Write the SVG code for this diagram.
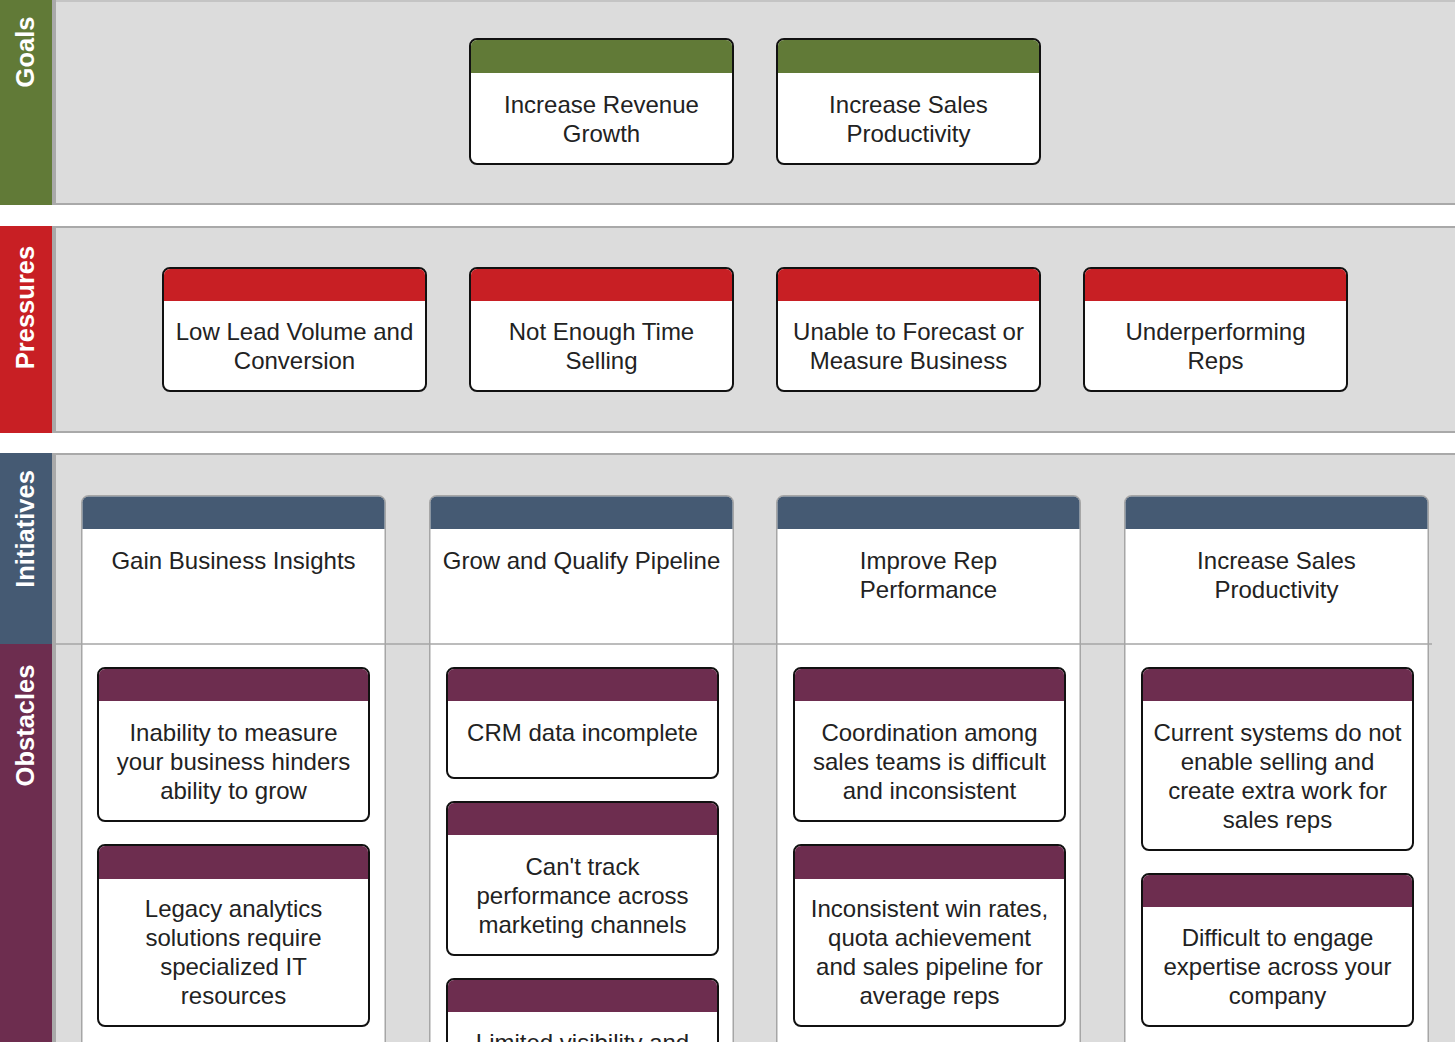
<svg xmlns="http://www.w3.org/2000/svg" width="1455" height="1042" viewBox="0 0 1455 1042">
<style>
 text{font-family:"Liberation Sans",Arial,Helvetica,sans-serif}
 .lbl{fill:#fff;font-size:25.5px;font-weight:bold;text-anchor:middle}
 .t{fill:#222;font-size:24px;text-anchor:middle}
 .panel{fill:#dcdcdc}
 .edge{fill:#a9a9a9}
 .card{fill:#fff;stroke:#111;stroke-width:2}
 .g{fill:#617a37} .r{fill:#c81f24} .b{fill:#455a73} .p{fill:#6d2d4f}
 .col{fill:#fff;stroke:#a6a6a6;stroke-width:1.5}
 .sep{stroke:#a6a6a6;stroke-width:1.5}
</style>
<rect x="0" y="0" width="1455" height="1042" fill="#fff"/>
<g id="bands">
 <rect class="panel" x="52" y="0" width="1403" height="205"/>
 <rect x="52" y="0" width="1403" height="2" fill="#c4c4c4"/>
 <rect class="edge" x="52" y="203" width="1403" height="2"/>
 <rect class="panel" x="52" y="226" width="1403" height="207"/>
 <rect class="edge" x="52" y="226" width="1403" height="2"/>
 <rect class="edge" x="52" y="431" width="1403" height="2"/>
 <rect class="panel" x="52" y="453" width="1403" height="589"/>
 <rect class="edge" x="52" y="453" width="1403" height="2"/>
 <rect class="edge" x="52" y="0" width="4" height="1042"/>
 <rect x="52" y="205" width="4" height="21" fill="#fff"/>
 <rect x="52" y="433" width="4" height="20" fill="#fff"/>
</g>
<g id="lane-goals"><rect class="g" x="0" y="0" width="52" height="205"/><text class="lbl" transform="translate(34,52) rotate(-90)">Goals</text></g>
<g id="lane-pressures"><rect class="r" x="0" y="226" width="52" height="207"/><text class="lbl" transform="translate(34,307.5) rotate(-90)">Pressures</text></g>
<g id="lane-initiatives"><rect class="b" x="0" y="453" width="52" height="191"/><text class="lbl" transform="translate(34,529) rotate(-90)">Initiatives</text></g>
<g id="lane-obstacles"><rect class="p" x="0" y="644" width="52" height="398"/><text class="lbl" transform="translate(34,725.5) rotate(-90)">Obstacles</text></g>

<g id="goal-revenue">
 <rect class="card" x="470" y="39" width="263" height="125" rx="7"/>
 <path class="g" d="M471,73 V46 A6,6 0 0 1 477,40 H726 A6,6 0 0 1 732,46 V73 Z"/>
 <text class="t" x="601.5" y="113">Increase Revenue</text><text class="t" x="601.5" y="142">Growth</text>
</g>
<g id="goal-productivity">
 <rect class="card" x="777" y="39" width="263" height="125" rx="7"/>
 <path class="g" d="M778,73 V46 A6,6 0 0 1 784,40 H1033 A6,6 0 0 1 1039,46 V73 Z"/>
 <text class="t" x="908.5" y="113">Increase Sales</text><text class="t" x="908.5" y="142">Productivity</text>
</g>

<g id="pressure-lead">
 <rect class="card" x="163" y="268" width="263" height="123" rx="7"/>
 <path class="r" d="M164,301 V275 A6,6 0 0 1 170,269 H419 A6,6 0 0 1 425,275 V301 Z"/>
 <text class="t" x="294.5" y="340">Low Lead Volume and</text><text class="t" x="294.5" y="369">Conversion</text>
</g>
<g id="pressure-time">
 <rect class="card" x="470" y="268" width="263" height="123" rx="7"/>
 <path class="r" d="M471,301 V275 A6,6 0 0 1 477,269 H726 A6,6 0 0 1 732,275 V301 Z"/>
 <text class="t" x="601.5" y="340">Not Enough Time</text><text class="t" x="601.5" y="369">Selling</text>
</g>
<g id="pressure-forecast">
 <rect class="card" x="777" y="268" width="263" height="123" rx="7"/>
 <path class="r" d="M778,301 V275 A6,6 0 0 1 784,269 H1033 A6,6 0 0 1 1039,275 V301 Z"/>
 <text class="t" x="908.5" y="340">Unable to Forecast or</text><text class="t" x="908.5" y="369">Measure Business</text>
</g>
<g id="pressure-reps">
 <rect class="card" x="1084" y="268" width="263" height="123" rx="7"/>
 <path class="r" d="M1085,301 V275 A6,6 0 0 1 1091,269 H1340 A6,6 0 0 1 1346,275 V301 Z"/>
 <text class="t" x="1215.5" y="340">Underperforming</text><text class="t" x="1215.5" y="369">Reps</text>
</g>

<g id="initiative-insights">
 <rect class="col" x="81.75" y="495.75" width="303.5" height="600" rx="7"/>
 <path class="b" d="M82.5,529 V502.5 A6,6 0 0 1 88.5,496.5 H378.5 A6,6 0 0 1 384.5,502.5 V529 Z"/>
 <text class="t" x="233.5" y="569">Gain Business Insights</text>
</g>
<g id="initiative-pipeline">
 <rect class="col" x="429.75" y="495.75" width="303.5" height="600" rx="7"/>
 <path class="b" d="M430.5,529 V502.5 A6,6 0 0 1 436.5,496.5 H726.5 A6,6 0 0 1 732.5,502.5 V529 Z"/>
 <text class="t" x="581.5" y="569">Grow and Qualify Pipeline</text>
</g>
<g id="initiative-rep">
 <rect class="col" x="776.75" y="495.75" width="303.5" height="600" rx="7"/>
 <path class="b" d="M777.5,529 V502.5 A6,6 0 0 1 783.5,496.5 H1073.5 A6,6 0 0 1 1079.5,502.5 V529 Z"/>
 <text class="t" x="928.5" y="569">Improve Rep</text><text class="t" x="928.5" y="598">Performance</text>
</g>
<g id="initiative-productivity">
 <rect class="col" x="1124.75" y="495.75" width="303.5" height="600" rx="7"/>
 <path class="b" d="M1125.5,529 V502.5 A6,6 0 0 1 1131.5,496.5 H1421.5 A6,6 0 0 1 1427.5,502.5 V529 Z"/>
 <text class="t" x="1276.5" y="569">Increase Sales</text><text class="t" x="1276.5" y="598">Productivity</text>
</g>
<line class="sep" x1="55" y1="644" x2="1432" y2="644"/>

<g id="obstacle-measure">
 <rect class="card" x="98" y="668" width="271" height="153" rx="7"/>
 <path class="p" d="M99,701 V675 A6,6 0 0 1 105,669 H362 A6,6 0 0 1 368,675 V701 Z"/>
 <text class="t" x="233.5" y="741">Inability to measure</text><text class="t" x="233.5" y="770">your business hinders</text><text class="t" x="233.5" y="799">ability to grow</text>
</g>
<g id="obstacle-legacy">
 <rect class="card" x="98" y="845" width="271" height="181" rx="7"/>
 <path class="p" d="M99,879 V852 A6,6 0 0 1 105,846 H362 A6,6 0 0 1 368,852 V879 Z"/>
 <text class="t" x="233.5" y="917">Legacy analytics</text><text class="t" x="233.5" y="946">solutions require</text><text class="t" x="233.5" y="975">specialized IT</text><text class="t" x="233.5" y="1004">resources</text>
</g>
<g id="obstacle-crm">
 <rect class="card" x="447" y="668" width="271" height="110" rx="7"/>
 <path class="p" d="M448,701 V675 A6,6 0 0 1 454,669 H711 A6,6 0 0 1 717,675 V701 Z"/>
 <text class="t" x="582.5" y="741">CRM data incomplete</text>
</g>
<g id="obstacle-track">
 <rect class="card" x="447" y="802" width="271" height="153" rx="7"/>
 <path class="p" d="M448,835 V809 A6,6 0 0 1 454,803 H711 A6,6 0 0 1 717,809 V835 Z"/>
 <text class="t" x="582.5" y="875">Can't track</text><text class="t" x="582.5" y="904">performance across</text><text class="t" x="582.5" y="933">marketing channels</text>
</g>
<g id="obstacle-visibility">
 <rect class="card" x="447" y="979" width="271" height="118" rx="7"/>
 <path class="p" d="M448,1012 V986 A6,6 0 0 1 454,980 H711 A6,6 0 0 1 717,986 V1012 Z"/>
 <text class="t" x="582.5" y="1051">Limited visibility and</text>
</g>
<g id="obstacle-coordination">
 <rect class="card" x="794" y="668" width="271" height="153" rx="7"/>
 <path class="p" d="M795,701 V675 A6,6 0 0 1 801,669 H1058 A6,6 0 0 1 1064,675 V701 Z"/>
 <text class="t" x="929.5" y="741">Coordination among</text><text class="t" x="929.5" y="770">sales teams is difficult</text><text class="t" x="929.5" y="799">and inconsistent</text>
</g>
<g id="obstacle-winrates">
 <rect class="card" x="794" y="845" width="271" height="181" rx="7"/>
 <path class="p" d="M795,879 V852 A6,6 0 0 1 801,846 H1058 A6,6 0 0 1 1064,852 V879 Z"/>
 <text class="t" x="929.5" y="917">Inconsistent win rates,</text><text class="t" x="929.5" y="946">quota achievement</text><text class="t" x="929.5" y="975">and sales pipeline for</text><text class="t" x="929.5" y="1004">average reps</text>
</g>
<g id="obstacle-systems">
 <rect class="card" x="1142" y="668" width="271" height="182" rx="7"/>
 <path class="p" d="M1143,701 V675 A6,6 0 0 1 1149,669 H1406 A6,6 0 0 1 1412,675 V701 Z"/>
 <text class="t" x="1277.5" y="741">Current systems do not</text><text class="t" x="1277.5" y="770">enable selling and</text><text class="t" x="1277.5" y="799">create extra work for</text><text class="t" x="1277.5" y="828">sales reps</text>
</g>
<g id="obstacle-expertise">
 <rect class="card" x="1142" y="874" width="271" height="152" rx="7"/>
 <path class="p" d="M1143,907 V881 A6,6 0 0 1 1149,875 H1406 A6,6 0 0 1 1412,881 V907 Z"/>
 <text class="t" x="1277.5" y="946">Difficult to engage</text><text class="t" x="1277.5" y="975">expertise across your</text><text class="t" x="1277.5" y="1004">company</text>
</g>
<g id="connectors"/>
</svg>
